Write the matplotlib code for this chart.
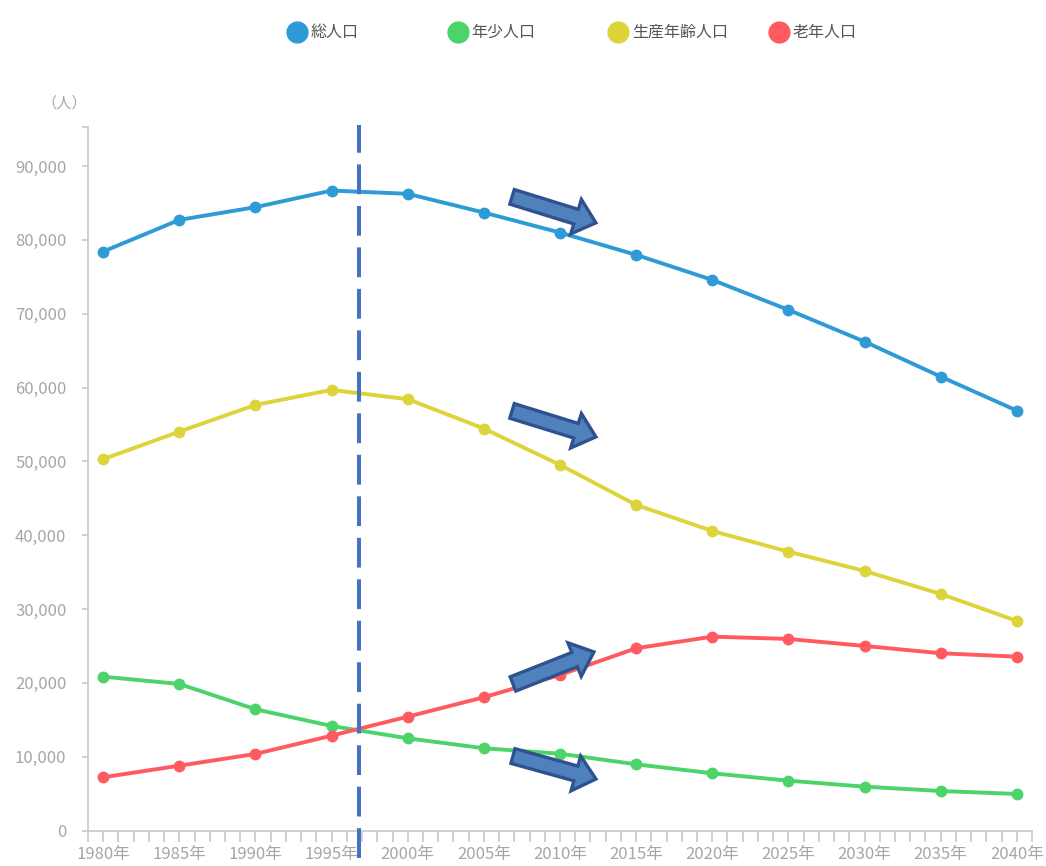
import matplotlib
matplotlib.use('Agg')
import matplotlib.pyplot as plt
from matplotlib.lines import Line2D
from matplotlib.patches import FancyArrowPatch, ArrowStyle

plt.rcParams['font.family'] = ['Noto Sans CJK JP', 'DejaVu Sans']

# --- data (人) ---
years = [1980, 1985, 1990, 1995, 2000, 2005, 2010, 2015, 2020, 2025, 2030, 2035, 2040]
total = [78430, 82720, 84440, 86690, 86250, 83710, 81000, 77980, 74590, 70530, 66230, 61490, 56880]
youth = [20840, 19850, 16420, 14160, 12490, 11140, 10400, 8970, 7750, 6750, 5940, 5350, 4950]
working = [50300, 54040, 57650, 59690, 58430, 54450, 49530, 44110, 40580, 37780, 35160, 32050, 28390]
elderly = [7210, 8780, 10370, 12850, 15420, 18050, 21070, 24690, 26260, 25950, 25000, 24010, 23550]

series_names = ['総人口', '年少人口', '生産年齢人口', '老年人口']
series_colors = ['#2E9BD6', '#4CD36A', '#DCD43A', '#FF5A5F']

divider_year = 1996.8
y_max = 95300

# trend arrows: (tail, head) in data coords
trend_arrows = [
    ((2006.85, 85840), (2012.36, 82320)),
    ((2006.85, 56840), (2012.36, 53320)),
    ((2006.91, 19850), (2012.23, 24190)),
    ((2006.91, 10090), (2012.36, 6980)),
]

fig = plt.figure(figsize=(10.46, 8.66), dpi=100)
ax = fig.add_axes([88 / 1046, 1 - 830.5 / 866, (1032 - 88) / 1046, (830.5 - 127) / 866])

for vals, c in zip([total, youth, working, elderly], series_colors):
    ax.plot(years, vals, color=c, lw=2.8, marker='o', ms=7.5, zorder=3)

# 1995/2000 boundary
ax.plot([divider_year, divider_year], [-3700, 95600], color='#4472C4', lw=2.9,
        dashes=(7.4, 2.9), clip_on=False, zorder=4)

for (tail, head) in trend_arrows:
    arr = FancyArrowPatch(tail, head,
                          arrowstyle=ArrowStyle.Simple(head_length=15, head_width=26, tail_width=11),
                          mutation_scale=1, fc='#4F81BD', ec='#2F528F', lw=2.4,
                          joinstyle='miter', shrinkA=0, shrinkB=0, zorder=5)
    ax.add_patch(arr)

ax.set_xlim(1979, 2041)
ax.set_ylim(0, y_max)

for s in ['top', 'right']:
    ax.spines[s].set_visible(False)
for s in ['left', 'bottom']:
    ax.spines[s].set_color('#CCCCCC')
    ax.spines[s].set_linewidth(1.3)

ax.set_xticks(years)
ax.set_xticklabels([f'{y}年' for y in years])
ax.set_xticks(range(1979, 2042), minor=True)
ax.set_yticks(range(0, 90001, 10000))
ax.set_yticklabels([f'{v:,}' for v in range(0, 90001, 10000)])
ax.set_yticks([y_max], minor=True)

ax.tick_params(axis='x', which='both', length=8, width=1.2, color='#C8C8C8',
               labelsize=12, labelcolor='#A6A6A6', pad=3)
ax.tick_params(axis='y', which='both', length=4.5, width=1.2, color='#C8C8C8',
               labelsize=12, labelcolor='#A6A6A6', pad=11)

fig.text(64 / 1046, 1 - 103 / 866, '（人）', fontsize=11, color='#A6A6A6',
         ha='center', va='center')

# legend along the top
for i, (name, c) in enumerate(zip(series_names, series_colors)):
    cx = (297 + 160.5 * i) / 1046
    cy = 1 - 32 / 866
    fig.add_artist(Line2D([cx], [cy], marker='o', ms=15, color=c, lw=0,
                          transform=fig.transFigure))
    fig.text(cx + 14 / 1046, cy, name, fontsize=11.5, color='#555555',
             ha='left', va='center')

plt.savefig('out.png', dpi=100)
plt.close()
